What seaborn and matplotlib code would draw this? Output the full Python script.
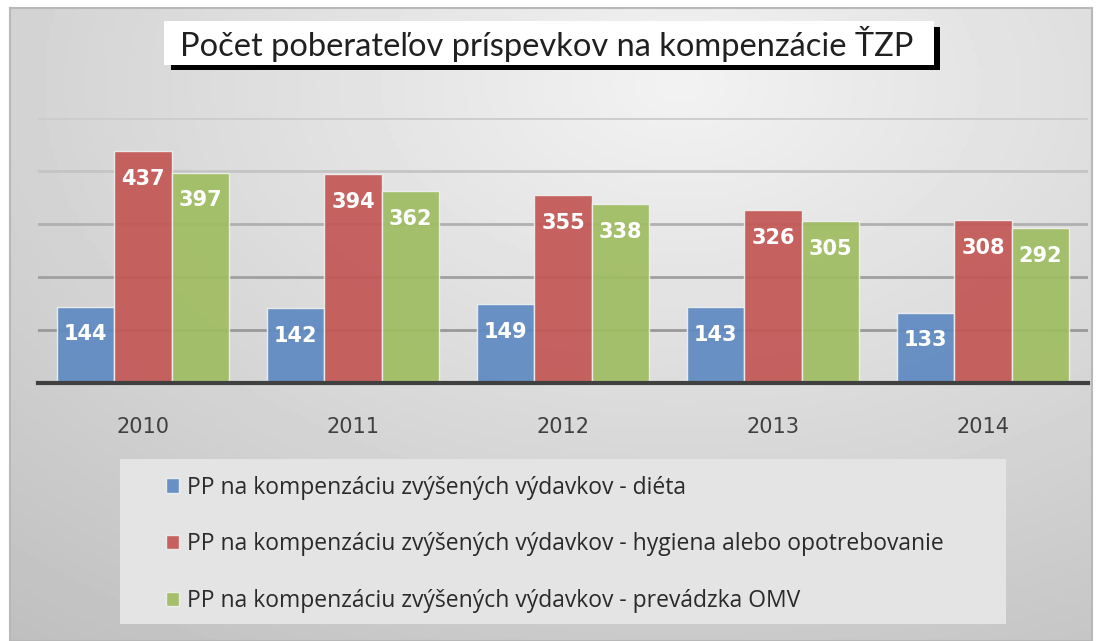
import numpy as np
import pandas as pd
import matplotlib
matplotlib.use("Agg")
import matplotlib.pyplot as plt
from matplotlib.patches import Rectangle
import seaborn as sns

# data
roky = ["2010", "2011", "2012", "2013", "2014"]
dieta = [144, 142, 149, 143, 133]
hygiena = [437, 394, 355, 326, 308]
omv = [397, 362, 338, 305, 292]
typy = [
    "PP na kompenzáciu zvýšených výdavkov - diéta",
    "PP na kompenzáciu zvýšených výdavkov - hygiena alebo opotrebovanie",
    "PP na kompenzáciu zvýšených výdavkov - prevádzka OMV",
]
farby = ["#5f8ac2", "#c35856", "#a0bd62"]
titulok = "Počet poberateľov príspevkov na kompenzácie ŤZP"

df = pd.DataFrame({
    "rok": roky * 3,
    "pocet": dieta + hygiena + omv,
    "typ": [typy[0]] * 5 + [typy[1]] * 5 + [typy[2]] * 5,
})

sns.set_style("white")
plt.rcParams["font.family"] = ["DejaVu Sans"]

W, H = 1100, 641
fig = plt.figure(figsize=(W / 100, H / 100), dpi=100, facecolor="white")

def fx(x):
    return x / W

def fy(y):
    return 1 - y / H

# gradient background of the chart area
bg = fig.add_axes([fx(10), 0, fx(1092) - fx(10), fy(8)], zorder=0)
gx, gy = np.meshgrid(np.linspace(0, 1, 300), np.linspace(0, 1, 200))
dist = np.sqrt(((gx - 0.62) * 1.0) ** 2 + ((gy - 0.12) * 0.9) ** 2)
bg.imshow(0.95 - 0.2 * dist, cmap="gray", vmin=0, vmax=1, aspect="auto",
          extent=[0, 1, 1, 0])
bg.set_xlim(0, 1)
bg.set_ylim(1, 0)
for s in bg.spines.values():
    s.set_color("#b8b8b8")
    s.set_linewidth(1.5)
bg.set_xticks([])
bg.set_yticks([])

# plot area
ax = fig.add_axes([fx(38), fy(383), fx(1088) - fx(38), fy(118) - fy(383)], zorder=2)
ax.patch.set_alpha(0)
sns.barplot(data=df, x="rok", y="pocet", hue="typ", palette=farby, saturation=1,
            width=0.82, edgecolor="#eef0ee", linewidth=1, alpha=0.93, ax=ax, zorder=3)
ax.set_ylim(0, 500)
ax.set_xlim(-0.5, 4.5)
ax.set_yticks([100, 200, 300, 400, 500])
ax.yaxis.grid(True, linewidth=2)
grid_cols = ["#999999", "#a0a0a0", "#b0b0b0", "#c4c4c4", "#cccccc"]
for gl, c in zip(ax.get_ygridlines(), grid_cols):
    gl.set_color(c)
ax.set_axisbelow(True)
ax.tick_params(axis="y", left=False, labelleft=False)
ax.tick_params(axis="x", bottom=False, pad=21, labelsize=15, labelcolor="#404040")
ax.set_xlabel("")
ax.set_ylabel("")
for s in ["top", "right", "left"]:
    ax.spines[s].set_visible(False)
ax.spines["bottom"].set_color("#404040")
ax.spines["bottom"].set_linewidth(3)
ax.spines["bottom"].set_zorder(5)

for cont in ax.containers:
    for bar in cont:
        v = bar.get_height()
        ax.annotate(f"{v:.0f}", (bar.get_x() + bar.get_width() / 2, v),
                    xytext=(0, -20), textcoords="offset points", ha="center",
                    va="center", color="white", fontsize=15, fontweight="bold",
                    zorder=6)

handles, labels = ax.get_legend_handles_labels()
ax.get_legend().remove()

# legend box
fig.patches.append(Rectangle((fx(120), fy(624)), fx(1006) - fx(120), fy(459) - fy(624),
                             transform=fig.transFigure, facecolor="#e4e4e4",
                             edgecolor="none", zorder=1))
leg = fig.legend(handles, labels, loc="upper left",
                 bbox_to_anchor=(fx(145), fy(455)), frameon=False,
                 prop={"family": "Open Sans", "size": 16.5}, labelcolor="#2a2a2a",
                 handlelength=0.57, handleheight=0.57, handletextpad=0.35,
                 labelspacing=1.42)

# title box with shadow
fig.patches.append(Rectangle((fx(171), fy(70)), fx(940) - fx(171), fy(27) - fy(70),
                             transform=fig.transFigure, facecolor="black",
                             edgecolor="none", zorder=3))
fig.patches.append(Rectangle((fx(164), fy(65)), fx(934) - fx(164), fy(21) - fy(65),
                             transform=fig.transFigure, facecolor="white",
                             edgecolor="none", zorder=4))
fig.text(fx(547), fy(44), titulok, ha="center", va="center", fontsize=23.5,
         family="Lato", color="#202020", zorder=5)

fig.savefig("out.png", dpi=100, facecolor="white")
